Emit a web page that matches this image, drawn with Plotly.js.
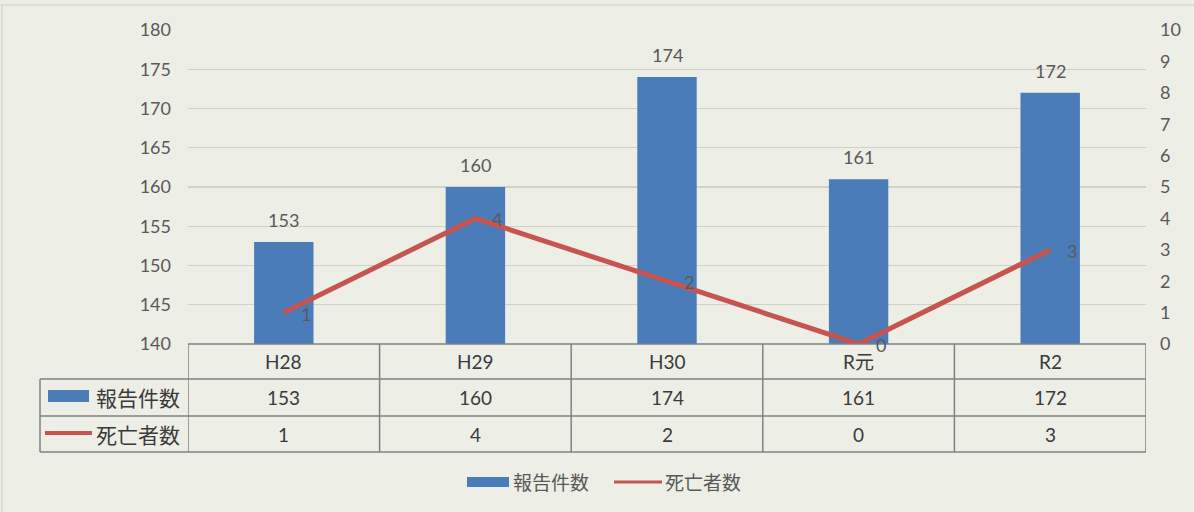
<!DOCTYPE html>
<html>
<head>
<meta charset="utf-8">
<script src="https://cdn.plot.ly/plotly-3.0.1.min.js"></script>
<style>
  html, body { margin: 0; padding: 0; background: #edeee6; }
  #chart { width: 1194px; height: 512px; }
</style>
</head>
<body>
<div id="chart"></div>
<script>
// ---- data ----
const categories = ['H28', 'H29', 'H30', 'R元', 'R2'];
const reports = [153, 160, 174, 161, 172];   // 報告件数 (left axis)
const deaths = [1, 4, 2, 0, 3];              // 死亡者数 (right axis)
const seriesNames = ['報告件数', '死亡者数'];

// ---- styling ----
const BAR = '#4a7cb9';
const LINE = '#c65450';
const BG = '#edeee6';
const TXT = '#595959';
const DARK = '#3a3a3a';
const FONT = "Lato, 'Noto Sans CJK JP', sans-serif";
const GRID = '#d0d1c9';
const TBL = '#808080';

const W = 1194, H = 512;
const L = 188, R = 1146, T = 30, B = 344;
const pxX = p => (p - L) / (R - L);
const pxY = p => (B - p) / (B - T);

const rowTop = 344, row1 = 379, row2 = 416, row3 = 452, leftCol = 40;

const traces = [
  {
    type: 'bar', x: categories, y: reports, name: seriesNames[0],
    marker: { color: BAR }, width: 0.31, yaxis: 'y', hoverinfo: 'skip'
  },
  {
    type: 'scatter', mode: 'lines', x: categories, y: deaths, name: seriesNames[1],
    line: { color: LINE, width: 5 }, yaxis: 'y2', hoverinfo: 'skip', cliponaxis: false
  }
];

const shapes = [];
const annotations = [];
const line = (x0, y0, x1, y1, xref) => shapes.push({
  type: 'line', xref: xref || 'paper', yref: 'paper',
  x0: x0, x1: x1, y0: y0, y1: y1, line: { color: TBL, width: 1.5 }
});
const note = (o) => annotations.push(Object.assign({
  showarrow: false, xanchor: 'center', yanchor: 'middle'
}, o));

// horizontal table lines
line(pxX(L), pxY(rowTop), 1, pxY(rowTop));
[row1, row2, row3].forEach(r => line(pxX(leftCol), pxY(r), 1, pxY(r)));
// vertical table lines
line(pxX(leftCol), pxY(row1), pxX(leftCol), pxY(row3));
for (let i = 0; i <= categories.length; i++) {
  line(i - 0.5, pxY(rowTop), i - 0.5, pxY(row3), 'x');
}

// table text
const midY = (a, b) => pxY((a + b) / 2);
const tblFont = { family: FONT, size: 19, color: DARK };
categories.forEach((c, i) => {
  note({ xref: 'x', yref: 'paper', x: i, y: midY(rowTop, row1), text: c, font: tblFont });
  note({ xref: 'x', yref: 'paper', x: i, y: midY(row1, row2), text: String(reports[i]), font: tblFont });
  note({ xref: 'x', yref: 'paper', x: i, y: midY(row2, row3), text: String(deaths[i]), font: tblFont });
});

// table legend keys
shapes.push({ type: 'rect', xref: 'paper', yref: 'paper',
  x0: pxX(48), x1: pxX(89), y0: pxY(402), y1: pxY(390), fillcolor: BAR, line: { width: 0 } });
shapes.push({ type: 'line', xref: 'paper', yref: 'paper',
  x0: pxX(45), x1: pxX(92), y0: pxY(433), y1: pxY(433), line: { color: LINE, width: 4 } });
note({ xref: 'paper', yref: 'paper', x: pxX(94), y: midY(row1, row2), xanchor: 'left',
  text: seriesNames[0], font: { family: FONT, size: 21, color: DARK } });
note({ xref: 'paper', yref: 'paper', x: pxX(94), y: midY(row2, row3), xanchor: 'left',
  text: seriesNames[1], font: { family: FONT, size: 21, color: DARK } });

// bottom legend
shapes.push({ type: 'rect', xref: 'paper', yref: 'paper',
  x0: pxX(467), x1: pxX(509), y0: pxY(487), y1: pxY(477), fillcolor: BAR, line: { width: 0 } });
shapes.push({ type: 'line', xref: 'paper', yref: 'paper',
  x0: pxX(614), x1: pxX(662), y0: pxY(482), y1: pxY(482), line: { color: LINE, width: 3 } });
note({ xref: 'paper', yref: 'paper', x: pxX(511), y: pxY(482), xanchor: 'left',
  text: seriesNames[0], font: { family: FONT, size: 19, color: TXT } });
note({ xref: 'paper', yref: 'paper', x: pxX(663), y: pxY(482), xanchor: 'left',
  text: seriesNames[1], font: { family: FONT, size: 19, color: TXT } });

// value labels
categories.forEach((c, i) => {
  note({ xref: 'x', yref: 'y', x: c, y: reports[i], yshift: 22, text: String(reports[i]),
    font: { family: FONT, size: 18, color: TXT } });
  note({ xref: 'x', yref: 'y2', x: c, y: deaths[i], xshift: 22, yshift: -1, text: String(deaths[i]),
    font: { family: FONT, size: 18, color: TXT } });
});

// outer chart border (top / left visible in reference)
shapes.push({ type: 'line', xref: 'paper', yref: 'paper', x0: pxX(0), x1: pxX(W), y0: pxY(5), y1: pxY(5),
  line: { color: '#cfd0c8', width: 1 } });
shapes.push({ type: 'line', xref: 'paper', yref: 'paper', x0: pxX(2), x1: pxX(2), y0: pxY(5), y1: pxY(H),
  line: { color: '#cfd0c8', width: 1 } });

const layout = {
  width: W, height: H,
  margin: { l: L, r: W - R, t: T, b: H - B, pad: 0 },
  paper_bgcolor: BG, plot_bgcolor: BG,
  showlegend: false,
  font: { family: FONT, color: TXT },
  xaxis: {
    type: 'category', range: [-0.5, categories.length - 0.5],
    showticklabels: false, showgrid: false, zeroline: false, showline: false, ticks: '', fixedrange: true
  },
  yaxis: {
    range: [140, 180], dtick: 5, tick0: 140, showgrid: true, gridcolor: GRID, gridwidth: 1.2,
    zeroline: false, showline: false, ticks: '', ticklabelstandoff: 16,
    tickfont: { family: FONT, size: 18, color: TXT }
  },
  yaxis2: {
    range: [0, 10], dtick: 1, tick0: 0, overlaying: 'y', side: 'right', showgrid: false,
    zeroline: false, showline: false, ticks: '', ticklabelstandoff: 13,
    tickfont: { family: FONT, size: 18, color: TXT }
  },
  shapes: shapes,
  annotations: annotations
};

Plotly.newPlot('chart', traces, layout, { staticPlot: true, displayModeBar: false });
</script>
</body>
</html>
